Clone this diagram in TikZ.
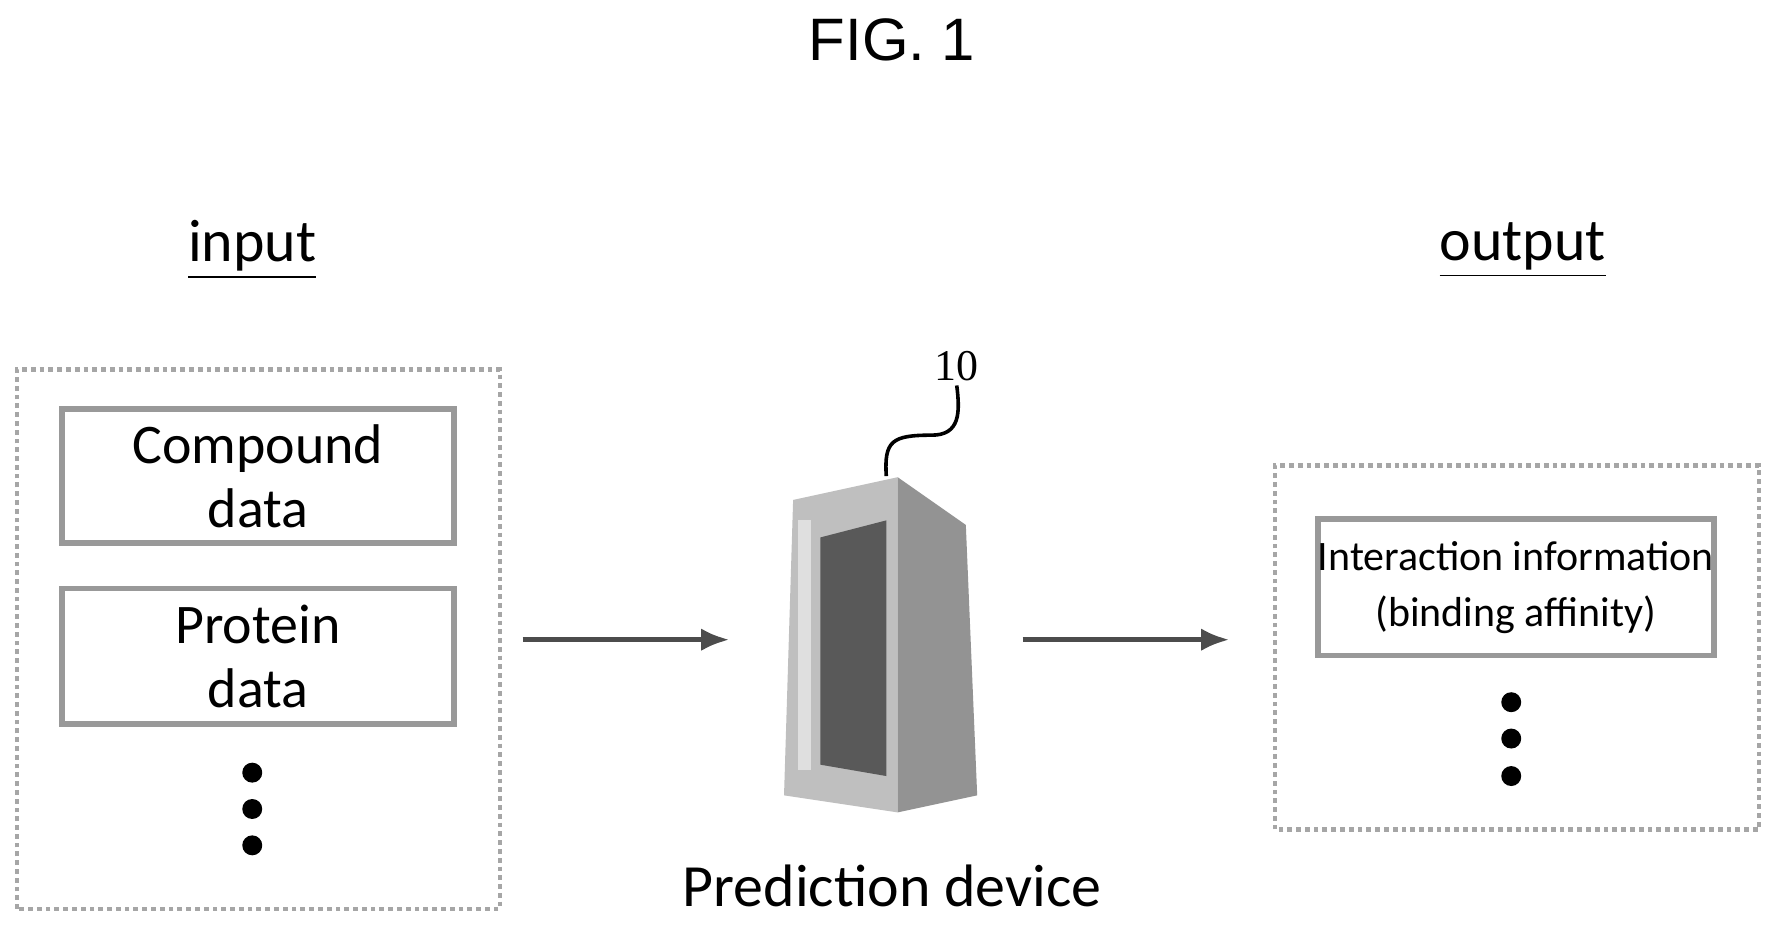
\documentclass[tikz,border=0pt]{standalone}
\usepackage{fontspec}
\setmainfont{Carlito}
\newfontfamily\titlefont{Liberation Sans}
\newfontfamily\numfont{Liberation Serif}
\usetikzlibrary{arrows.meta,positioning}
\tikzset{%
	>={Latex[width=2mm,length=2.5mm]},
	% styles for the boxes
	group/.style = {draw=gray!70, densely dotted, line width=1.2pt},
	item/.style = {draw=gray!80, line width=1.4pt, minimum width=3.45cm, align=center, inner sep=0pt},
	dot/.style = {circle, fill=black, inner sep=0pt, minimum size=5pt},
	head/.style = {font=\fontsize{15}{18}\selectfont}
}
\begin{document}
\begin{tikzpicture}[x=1cm,y=1cm]
	\useasboundingbox (0,1.12) rectangle (15.63,9.33);
	% title and headings
	\node (title) at (7.85,8.98) {\titlefont\fontsize{15}{18}\selectfont FIG. 1};
	\node[head] (in) at (2.22,7.13) {\underline{input}};
	\node[head] (out) at (13.40,7.13) {\underline{output}};
	% input side
	\draw[group] (0.15,1.33) rectangle (4.40,6.08);
	\node[item, minimum height=1.18cm, font=\fontsize{14}{16}\selectfont] (cmp) at (2.27,5.14) {Compound\\data};
	\node[item, minimum height=1.19cm, font=\fontsize{14}{16}\selectfont] (prot) at (2.27,3.555) {Protein\\data};
	\foreach \y in {2.53,2.21,1.89} \node[dot] at (2.22,\y) {};
	% prediction device
	\fill[gray!50] (6.98,4.93) -- (7.90,5.13) -- (7.90,2.18) -- (6.90,2.33) -- cycle;
	\fill[gray!85] (7.90,5.13) -- (8.50,4.71) -- (8.60,2.33) -- (7.90,2.18) -- cycle;
	\fill[gray!25] (7.02,4.75) rectangle (7.14,2.55);
	\fill[black!65] (7.22,4.60) -- (7.80,4.75) -- (7.80,2.50) -- (7.22,2.60) -- cycle;
	\coordinate (srv) at (7.80,5.14);
	\node[inner sep=1pt] (ten) at (8.42,6.11) {\numfont\fontsize{11}{12}\selectfont 10};
	\draw[line width=0.9pt] (srv) .. controls (7.78,5.45) and (7.85,5.50) .. (8.20,5.50)
		.. controls (8.45,5.50) and (8.45,5.70) .. (ten.south);
	\node[font=\fontsize{15}{18}\selectfont] (dev) at (7.85,1.53) {Prediction device};
	% output side
	\draw[group] (11.22,2.03) rectangle (15.48,5.23);
	\node[item, minimum width=3.48cm, minimum height=1.2cm, font=\fontsize{10.5}{14}\selectfont] (inter) at (13.34,4.16) {Interaction information\\(binding affinity)};
	\foreach \y in {3.15,2.83,2.50} \node[dot] at (13.30,\y) {};
	% arrows
	\coordinate (a1) at (4.60,3.70); \coordinate (a2) at (6.42,3.70);
	\coordinate (b1) at (9.00,3.70); \coordinate (b2) at (10.82,3.70);
	\draw[->, line width=1.3pt, gray!60!black] (a1) -- (a2);
	\draw[->, line width=1.3pt, gray!60!black] (b1) -- (b2);
\end{tikzpicture}
\end{document}
